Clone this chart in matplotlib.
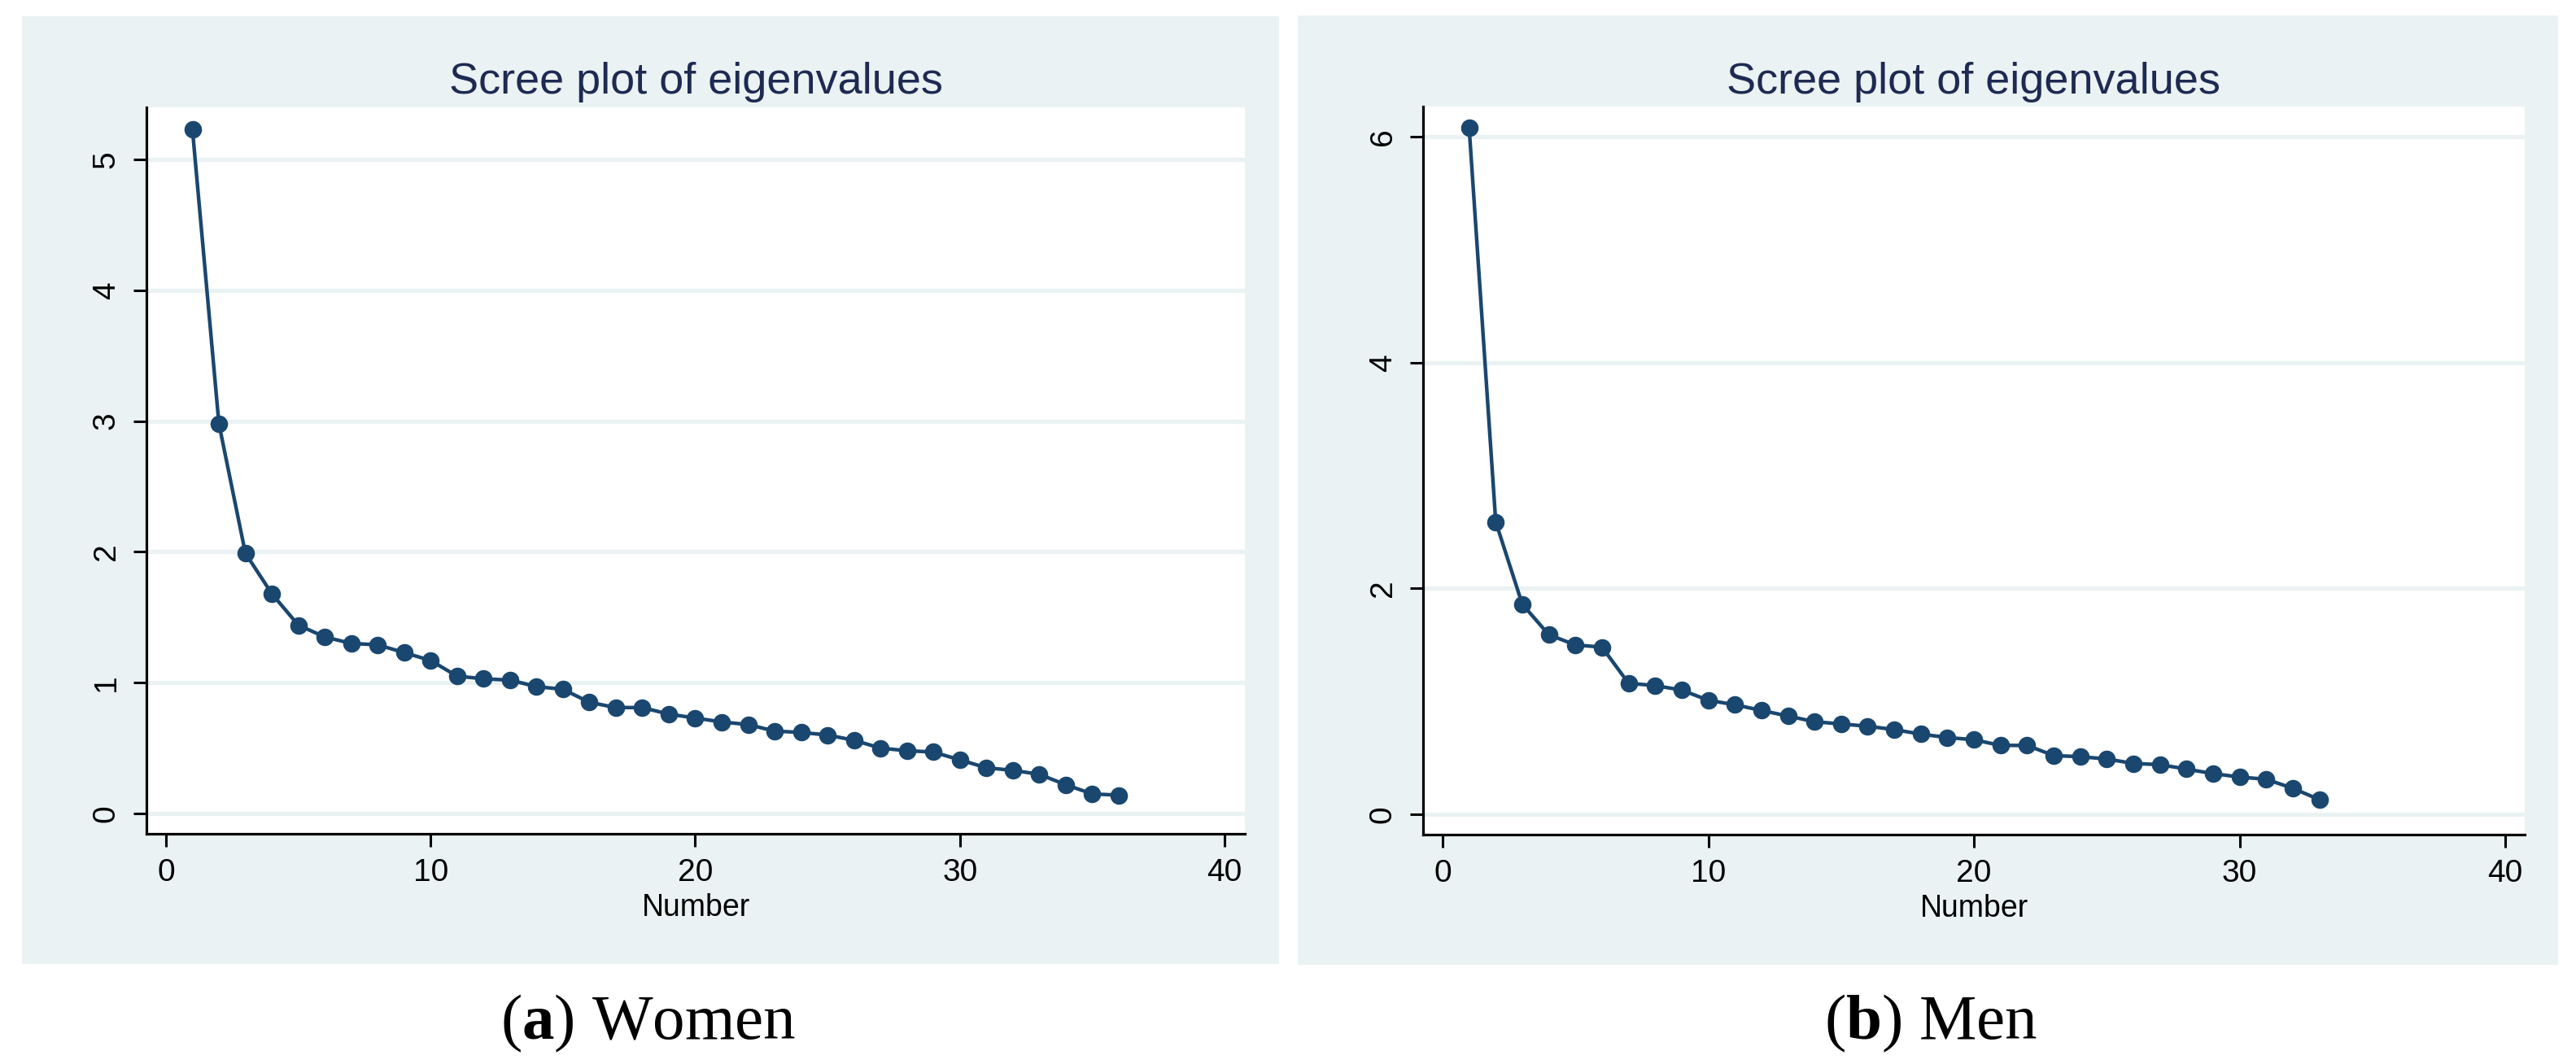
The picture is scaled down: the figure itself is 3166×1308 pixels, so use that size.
import matplotlib
matplotlib.use("Agg")
from matplotlib import pyplot as plt
from matplotlib.patches import Rectangle

# eigenvalues
women_eig = [5.23, 2.98, 1.99, 1.68, 1.44, 1.35, 1.30, 1.29, 1.23, 1.17,
             1.05, 1.03, 1.02, 0.97, 0.95, 0.85, 0.81, 0.81, 0.76, 0.73,
             0.70, 0.68, 0.63, 0.62, 0.60, 0.56, 0.50, 0.48, 0.47, 0.41,
             0.35, 0.33, 0.30, 0.22, 0.15, 0.14]
men_eig = [6.08, 2.59, 1.86, 1.59, 1.50, 1.48, 1.16, 1.14, 1.10, 1.01,
           0.97, 0.92, 0.87, 0.82, 0.80, 0.78, 0.75, 0.71, 0.68, 0.66,
           0.61, 0.61, 0.52, 0.51, 0.49, 0.45, 0.44, 0.40, 0.36, 0.33,
           0.31, 0.23, 0.13]
women_yticks = [0, 1, 2, 3, 4, 5]
men_yticks = [0, 2, 4, 6]
xticks = [0, 10, 20, 30, 40]
title = "Scree plot of eigenvalues"
xlabel = "Number"
captions = [r"($\mathbf{a}$) Women", r"($\mathbf{b}$) Men"]

plt.rcParams['font.family'] = ['Liberation Sans', 'DejaVu Sans']
plt.rcParams['mathtext.fontset'] = 'custom'
plt.rcParams['mathtext.rm'] = 'Liberation Serif'
plt.rcParams['mathtext.bf'] = 'Liberation Serif:bold'

W, H = 3166, 1308
fig = plt.figure(figsize=(W / 100, H / 100), dpi=100)

bg = '#eaf2f3'
navy = '#1a476f'
title_col = '#1e2a52'


def px_rect(x0, y0, x1, y1):
    # pixel box (top-left origin) -> figure fraction
    return [x0 / W, 1 - y1 / H, (x1 - x0) / W, (y1 - y0) / H]


panels = [
    dict(bg=(27, 20, 1572, 1185), ax=(180, 132, 1530, 1025), data=women_eig,
         yticks=women_yticks, ylim=(-0.155, 5.398), xlim=(-0.738, 40.77), cap_x=797),
    dict(bg=(1595, 19, 3144, 1186), ax=(1749, 131, 3103, 1026), data=men_eig,
         yticks=men_yticks, ylim=(-0.18, 6.268), xlim=(-0.735, 40.73), cap_x=2373),
]

for i, p in enumerate(panels):
    r = px_rect(*p['bg'])
    fig.patches.append(Rectangle((r[0], r[1]), r[2], r[3], transform=fig.transFigure,
                                 facecolor=bg, edgecolor='none', zorder=-5))
    ax = fig.add_axes(px_rect(*p['ax']))
    ax.set_facecolor('white')
    x = list(range(1, len(p['data']) + 1))
    ax.plot(x, p['data'], color=navy, lw=3.2, marker='o', ms=15.5,
            markeredgewidth=0, zorder=3, clip_on=False)
    ax.set_xlim(*p['xlim'])
    ax.set_ylim(*p['ylim'])
    ax.set_xticks(xticks)
    ax.set_yticks(p['yticks'])
    ax.set_yticklabels([str(t) for t in p['yticks']], rotation=90, va='center')
    for t in p['yticks']:
        ax.axhline(t, color=bg, lw=3.8, zorder=1)
    for s in ['top', 'right']:
        ax.spines[s].set_visible(False)
    for s in ['left', 'bottom']:
        ax.spines[s].set_linewidth(2.3)
        ax.spines[s].set_color('black')
    ax.tick_params(axis='both', length=11.5, width=2.2, labelsize=28, pad=10)
    ax.tick_params(axis='y', pad=11)
    ax.set_xlabel(xlabel, fontsize=27, labelpad=5)
    ax_l, ax_t, ax_r, ax_b = p['ax']
    fig.text((ax_l + ax_r) / 2 / W, 1 - 115 / H, title, ha='center', va='baseline',
             fontsize=39, color=title_col)
    fig.text(p['cap_x'] / W, 1 - 1277 / H, captions[i], ha='center', va='baseline',
             fontsize=57, color='black', family=['Liberation Serif'])

plt.savefig("out.png", dpi=100)
